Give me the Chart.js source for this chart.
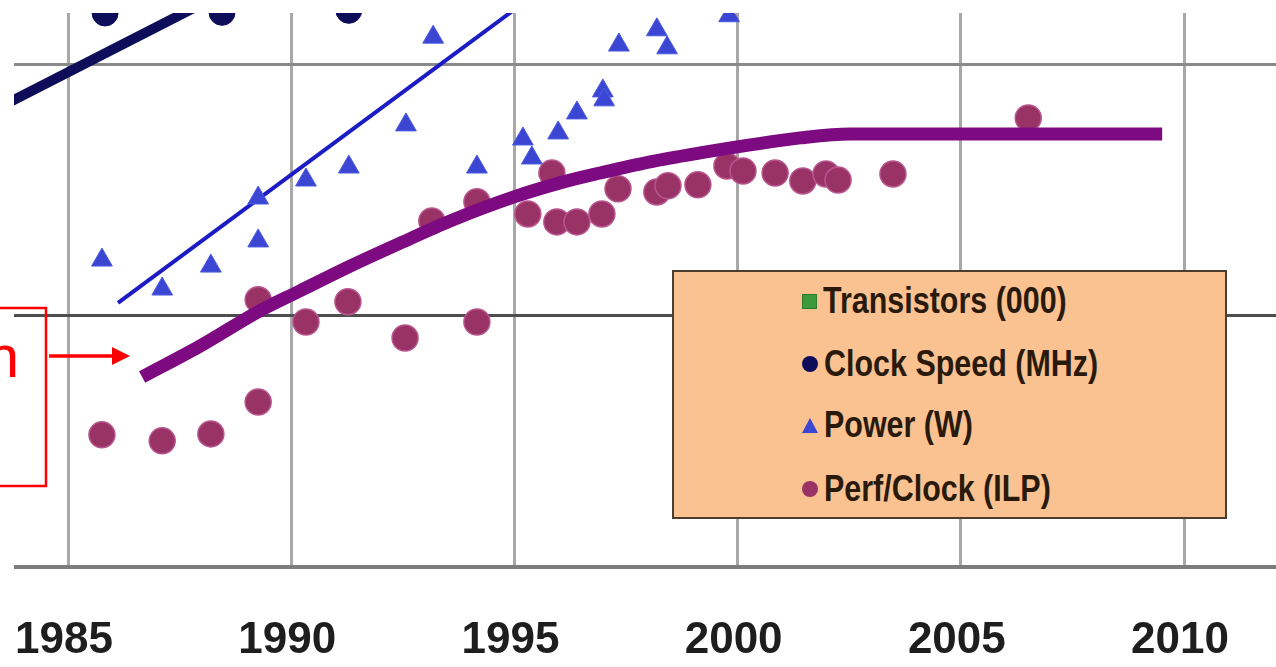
<!DOCTYPE html>
<html>
<head>
<meta charset="utf-8">
<script src="https://cdn.jsdelivr.net/npm/chart.js@4.4.1/dist/chart.umd.min.js"></script>
<style>
  html, body { margin: 0; padding: 0; background: #ffffff; }
  #wrap { position: relative; width: 1276px; height: 667px; overflow: hidden; background: #ffffff; }
  #c { position: absolute; left: 0; top: 0; }
  #legend {
    position: absolute; left: 672px; top: 270px; width: 551px; height: 245px;
    background: #fac291; border: 2px solid #4b3d30;
  }
  .lg-row {
    position: absolute; left: 128px; height: 40px; line-height: 40px;
    display: flex; align-items: center; white-space: nowrap;
    font-family: "Liberation Sans", Arial, sans-serif;
    font-weight: bold; font-size: 36px; color: #2a1a0c;
  }
  .lg-mark { width: 16px; height: 16px; margin-right: 6px; box-sizing: border-box; flex: none; }
  .lg-text { display: inline-block; transform: scaleX(0.846); transform-origin: left center; }
  #anno { position: absolute; left: 0; top: 0; }
</style>
</head>
<body>
<div id="wrap">
  <canvas id="c" width="1276" height="667"></canvas>
  <div id="legend"></div>
  <svg id="anno" width="1276" height="667" xmlns="http://www.w3.org/2000/svg">
    <rect x="-20" y="308" width="66" height="178" fill="none" stroke="#ff0000" stroke-width="2.5"/>
    <text x="19" y="377" text-anchor="end" font-family="Liberation Sans, Arial, sans-serif" font-size="60" fill="#ff0000">n</text>
    <line x1="49" y1="356" x2="114" y2="356" stroke="#ff0000" stroke-width="3.5"/>
    <polygon points="112,347 130,356 112,365" fill="#ff0000"/>
  </svg>
</div>
<script>
// ---- labels ----
const seriesNames = ['Transistors (000)', 'Clock Speed (MHz)', 'Power (W)', 'Perf/Clock (ILP)'];
const yearTicks = [1985, 1990, 1995, 2000, 2005, 2010];
const levelTicks = [1, 10, 100];

// ---- series values ----
const transistorYears = [];
const transistorValues = [];

const clockYears = [1985.83, 1988.45, 1991.29];
const clockMHz   = [161, 162, 165];

const powerYears = [1985.76, 1987.11, 1988.20, 1989.26, 1989.26, 1990.33, 1991.29, 1992.57, 1993.18, 1994.16,
                    1995.19, 1995.39, 1995.98, 1996.40, 1996.98, 1997.01, 1997.34, 1998.19, 1998.42, 1999.81];
const powerWatts = [16.7, 12.8, 15.8, 19.9, 29.5, 34.8, 39.2, 57.7, 129, 39.2,
                    50.7, 42.6, 53.6, 64.4, 78.8, 72.6, 120, 138, 117, 157];

const ilpYears  = [1985.76, 1987.11, 1988.20, 1989.26, 1989.26, 1990.33, 1991.27, 1992.55, 1993.15, 1994.16,
                   1994.16, 1995.30, 1995.84, 1995.95, 1996.40, 1996.96, 1997.32, 1998.19, 1998.44, 1999.11,
                   1999.76, 2000.12, 2000.84, 2001.46, 2001.98, 2002.25, 2003.48, 2006.51];
const ilpValues = [3.36, 3.18, 3.39, 4.54, 11.6, 9.46, 11.4, 8.17, 23.9, 9.46,
                   28.5, 25.5, 37.1, 23.7, 23.7, 25.5, 32.1, 31.2, 33.0, 33.3,
                   39.6, 37.8, 37.1, 34.5, 36.8, 34.8, 36.8, 61.5];

// ---- trend lines ----
const clockTrendYears  = [1983.0, 1989.0];
const clockTrendValues = [61.5, 216];
const powerTrendYears  = [1986.12, 1996.0];
const powerTrendValues = [11.27, 225];
const ilpTrendYears  = [1986.66, 1987.96, 1989.26, 1990.20, 1991.32, 1992.44, 1993.56, 1994.99,
                        1996.02, 1996.92, 1998.04, 1999.16, 2000.28, 2001.40, 2002.52, 2009.51];
const ilpTrendValues = [5.71, 7.59, 10.4, 12.6, 15.8, 19.5, 23.9, 29.8,
                        33.9, 37.1, 41.1, 44.6, 48.0, 51.2, 53.1, 53.1];

const pts = (xs, ys) => xs.map((x, i) => ({ x: x, y: ys[i] }));

const COL_TRANS = '#3c9a3c';
const COL_CLOCK = '#0d0d5a';
const COL_POWER = '#3b47d2';
const COL_ILP   = '#993366';
const COL_ILP_LINE = '#7d0a80';
const COL_POWER_LINE = '#1c1cc4';

const datasets = [
  { label: 'ilp-trend', data: pts(ilpTrendYears, ilpTrendValues), showLine: true, pointRadius: 0,
    borderColor: COL_ILP_LINE, borderWidth: 13, borderCapStyle: 'butt', cubicInterpolationMode: 'monotone', order: 0 },
  { label: seriesNames[2], data: pts(powerYears, powerWatts), pointStyle: 'triangle', pointRadius: 12,
    backgroundColor: COL_POWER, borderColor: '#4b5ae0', borderWidth: 1, order: 1 },
  { label: seriesNames[3], data: pts(ilpYears, ilpValues), pointStyle: 'circle', pointRadius: 13,
    backgroundColor: COL_ILP, borderColor: '#b8558f', borderWidth: 1.5, order: 2 },
  { label: 'power-trend', data: pts(powerTrendYears, powerTrendValues), showLine: true, pointRadius: 0,
    borderColor: COL_POWER_LINE, borderWidth: 4, order: 3 },
  { label: 'clock-trend', data: pts(clockTrendYears, clockTrendValues), showLine: true, pointRadius: 0,
    borderColor: COL_CLOCK, borderWidth: 10, order: 4 },
  { label: seriesNames[1], data: pts(clockYears, clockMHz), pointStyle: 'circle', pointRadius: 13,
    backgroundColor: COL_CLOCK, borderColor: COL_CLOCK, borderWidth: 1, order: 5 },
  { label: seriesNames[0], data: pts(transistorYears, transistorValues), pointStyle: 'rect', pointRadius: 8,
    backgroundColor: COL_TRANS, borderColor: COL_TRANS, borderWidth: 1, order: 6 }
];

const hGridStyle = { 1: ['#7c7c7c', 4], 10: ['#4e4e4e', 3], 100: ['#8a8a8a', 3] };

const chart = new Chart(document.getElementById('c'), {
  type: 'scatter',
  data: { datasets: datasets },
  options: {
    responsive: false,
    animation: false,
    devicePixelRatio: 1,
    layout: { autoPadding: false, padding: { left: 14, top: 13, right: 0, bottom: 0 } },
    plugins: { legend: { display: false }, tooltip: { enabled: false } },
    scales: {
      x: {
        type: 'linear', min: 1983.79, max: 2012.06,
        afterBuildTicks: s => { s.ticks = yearTicks.map(v => ({ value: v })); },
        afterFit: s => { s.height = 100; s.paddingLeft = 0; s.paddingRight = 0; },
        grid: { color: '#a8a8a8', lineWidth: 3, drawTicks: false },
        border: { display: false },
        ticks: {
          autoSkip: false, maxRotation: 0, padding: 47, labelOffset: -4, color: '#1e1e1e',
          font: { family: '"Liberation Sans", Arial, sans-serif', size: 44, weight: 'bold' },
          callback: v => String(v)
        }
      },
      y: {
        type: 'logarithmic', min: 1, max: 161,
        afterBuildTicks: s => { s.ticks = levelTicks.map(v => ({ value: v })); },
        afterFit: s => { s.width = 0; s.paddingTop = 0; s.paddingBottom = 0; },
        grid: {
          drawTicks: false,
          color: ctx => (hGridStyle[ctx.tick && ctx.tick.value] || ['#888', 2])[0],
          lineWidth: ctx => (hGridStyle[ctx.tick && ctx.tick.value] || ['#888', 2])[1]
        },
        border: { display: false },
        ticks: { display: false }
      }
    }
  }
});

// ---- HTML legend built from the chart's datasets ----
(function buildLegend() {
  const box = document.getElementById('legend');
  const rowsY = [29, 92, 153, 217];
  seriesNames.forEach((name, i) => {
    const ds = chart.data.datasets.find(d => d.label === name);
    const row = document.createElement('div');
    row.className = 'lg-row';
    row.style.top = (rowsY[i] - 20) + 'px';
    const mark = document.createElement('span');
    mark.className = 'lg-mark';
    if (ds.pointStyle === 'rect') {
      mark.style.background = ds.backgroundColor;
      mark.style.border = '1px solid #2f7a2f';
      mark.style.width = '15px'; mark.style.height = '15px';
    } else if (ds.pointStyle === 'circle') {
      mark.style.background = ds.backgroundColor;
      mark.style.borderRadius = '50%';
    } else if (ds.pointStyle === 'triangle') {
      mark.style.width = '0'; mark.style.height = '0';
      mark.style.borderLeft = '8px solid transparent';
      mark.style.borderRight = '8px solid transparent';
      mark.style.borderBottom = '15px solid ' + ds.backgroundColor;
    }
    const txt = document.createElement('span');
    txt.className = 'lg-text';
    txt.textContent = ds.label;
    row.appendChild(mark);
    row.appendChild(txt);
    box.appendChild(row);
  });
})();
</script>
</body>
</html>
